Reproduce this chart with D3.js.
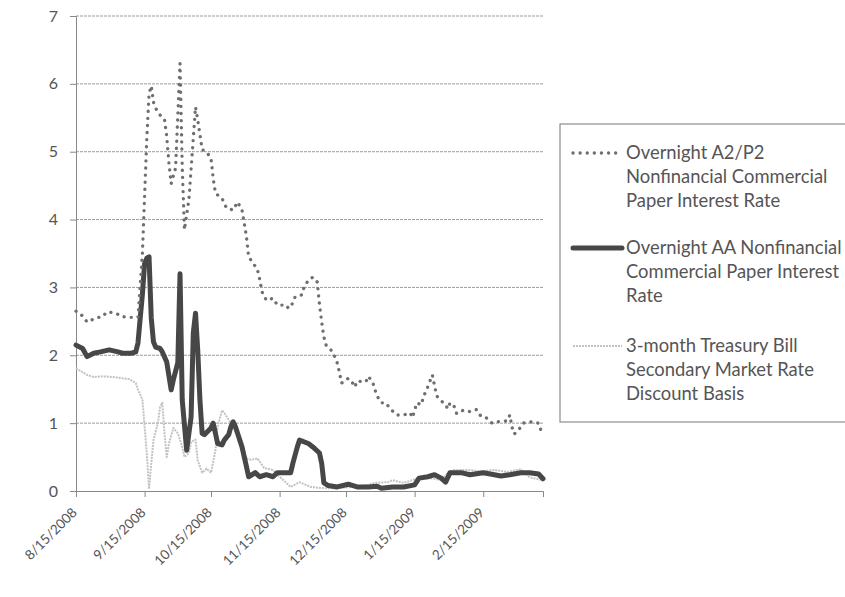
<!DOCTYPE html>
<html>
<head>
<meta charset="utf-8">
<script src="https://cdn.jsdelivr.net/npm/d3@7"></script>
<style>
  body { margin: 0; background: #fff; }
  svg text { font-family: "Lato", "Open Sans", "Liberation Sans", sans-serif; fill: #555; }
</style>
</head>
<body>
<svg id="chart" width="845" height="597"></svg>
<script>
// overnight A2/P2 nonfinancial CP rate
var a2p2 = [
  ["2008-08-15",2.65],["2008-08-18",2.58],["2008-08-20",2.49],["2008-08-24",2.55],["2008-08-27",2.57],
  ["2008-08-29",2.64],["2008-09-02",2.62],["2008-09-05",2.57],["2008-09-08",2.56],["2008-09-12",2.56],
  ["2008-09-14",3.5],["2008-09-15",4.35],["2008-09-16",5.2],["2008-09-17",5.85],["2008-09-18",5.97],
  ["2008-09-19",5.73],["2008-09-20",5.64],["2008-09-22",5.54],["2008-09-24",5.47],["2008-09-25",5.22],
  ["2008-09-26",4.83],["2008-09-27",4.53],["2008-09-29",4.76],["2008-10-01",6.3],["2008-10-02",4.78],
  ["2008-10-03",3.85],["2008-10-05",4.29],["2008-10-08",5.66],["2008-10-09",5.47],["2008-10-10",5.25],
  ["2008-10-11",5.03],["2008-10-13",5.0],["2008-10-15",4.9],["2008-10-16",4.6],["2008-10-17",4.39],
  ["2008-10-20",4.31],["2008-10-22",4.17],["2008-10-25",4.14],["2008-10-27",4.26],["2008-10-29",4.14],
  ["2008-10-30",3.95],["2008-10-31",3.75],["2008-11-01",3.45],["2008-11-03",3.36],["2008-11-05",3.26],
  ["2008-11-06",3.12],["2008-11-07",2.94],["2008-11-09",2.81],["2008-11-12",2.84],["2008-11-14",2.74],
  ["2008-11-18",2.74],["2008-11-19",2.69],["2008-11-21",2.77],["2008-11-22",2.86],["2008-11-25",2.89],
  ["2008-11-26",3.0],["2008-11-28",3.11],["2008-11-30",3.15],["2008-12-02",3.08],["2008-12-03",2.75],
  ["2008-12-04",2.49],["2008-12-05",2.27],["2008-12-06",2.15],["2008-12-09",2.05],["2008-12-11",1.89],
  ["2008-12-12",1.75],["2008-12-13",1.59],["2008-12-16",1.66],["2008-12-18",1.59],["2008-12-19",1.53],
  ["2008-12-20",1.62],["2008-12-24",1.61],["2008-12-25",1.69],["2008-12-27",1.61],["2008-12-28",1.5],
  ["2008-12-29",1.4],["2008-12-31",1.3],["2009-01-02",1.3],["2009-01-04",1.21],["2009-01-07",1.12],
  ["2009-01-10",1.12],["2009-01-13",1.15],["2009-01-14",1.08],["2009-01-15",1.19],["2009-01-16",1.3],
  ["2009-01-18",1.27],["2009-01-19",1.39],["2009-01-21",1.54],["2009-01-23",1.71],["2009-01-24",1.55],
  ["2009-01-25",1.4],["2009-01-27",1.33],["2009-01-29",1.27],["2009-01-30",1.21],["2009-01-31",1.3],
  ["2009-02-02",1.24],["2009-02-03",1.14],["2009-02-06",1.19],["2009-02-09",1.17],["2009-02-12",1.2],
  ["2009-02-14",1.1],["2009-02-17",1.07],["2009-02-19",1.0],["2009-02-21",1.02],["2009-02-25",1.03],
  ["2009-02-26",1.04],["2009-02-27",1.12],["2009-02-28",0.94],["2009-03-01",0.84],["2009-03-03",0.9],
  ["2009-03-05",1.0],["2009-03-08",1.02],["2009-03-12",1.0],["2009-03-13",0.9]
];

// overnight AA nonfinancial CP rate
var aa = [
  ["2008-08-15",2.15],["2008-08-18",2.1],["2008-08-20",1.98],["2008-08-23",2.03],["2008-08-26",2.05],
  ["2008-08-30",2.08],["2008-09-03",2.05],["2008-09-05",2.03],["2008-09-09",2.03],["2008-09-11",2.05],
  ["2008-09-12",2.18],["2008-09-14",2.9],["2008-09-15",3.35],["2008-09-16",3.43],["2008-09-17",3.45],
  ["2008-09-18",2.55],["2008-09-19",2.2],["2008-09-20",2.12],["2008-09-22",2.1],["2008-09-23",2.05],
  ["2008-09-25",1.9],["2008-09-27",1.49],["2008-09-28",1.64],["2008-09-30",1.89],["2008-10-01",3.2],
  ["2008-10-02",1.34],["2008-10-04",0.6],["2008-10-06",1.09],["2008-10-07",2.33],["2008-10-08",2.62],
  ["2008-10-09",2.08],["2008-10-10",1.34],["2008-10-11",0.85],["2008-10-12",0.83],["2008-10-15",0.93],
  ["2008-10-16",1.0],["2008-10-17",0.85],["2008-10-18",0.7],["2008-10-20",0.68],["2008-10-21",0.75],
  ["2008-10-23",0.83],["2008-10-24",0.95],["2008-10-25",1.02],["2008-10-26",0.95],["2008-10-29",0.65],
  ["2008-10-31",0.36],["2008-11-01",0.21],["2008-11-04",0.27],["2008-11-06",0.21],["2008-11-09",0.24],
  ["2008-11-12",0.21],["2008-11-14",0.27],["2008-11-18",0.27],["2008-11-20",0.27],["2008-11-21",0.41],
  ["2008-11-23",0.65],["2008-11-24",0.75],["2008-11-28",0.7],["2008-11-30",0.65],["2008-12-03",0.56],
  ["2008-12-04",0.41],["2008-12-05",0.12],["2008-12-07",0.08],["2008-12-11",0.06],["2008-12-16",0.1],
  ["2008-12-20",0.06],["2008-12-25",0.06],["2008-12-29",0.07],["2008-12-31",0.04],["2009-01-05",0.06],
  ["2009-01-10",0.06],["2009-01-15",0.09],["2009-01-17",0.19],["2009-01-21",0.21],["2009-01-24",0.24],
  ["2009-01-27",0.19],["2009-01-29",0.13],["2009-01-31",0.27],["2009-02-05",0.27],["2009-02-09",0.24],
  ["2009-02-15",0.27],["2009-02-20",0.24],["2009-02-23",0.22],["2009-02-27",0.24],["2009-03-04",0.27],
  ["2009-03-08",0.27],["2009-03-12",0.25],["2009-03-14",0.18]
];

// 3-month treasury bill, secondary market, discount basis
var tbill = [
  ["2008-08-15",1.81],["2008-08-18",1.75],["2008-08-20",1.71],["2008-08-23",1.68],["2008-08-27",1.69],
  ["2008-09-01",1.68],["2008-09-05",1.66],["2008-09-08",1.65],["2008-09-11",1.59],["2008-09-12",1.49],
  ["2008-09-14",1.35],["2008-09-15",0.95],["2008-09-16",0.55],["2008-09-17",0.03],["2008-09-18",0.4],
  ["2008-09-19",0.75],["2008-09-21",1.0],["2008-09-22",1.24],["2008-09-23",1.3],["2008-09-24",0.85],
  ["2008-09-25",0.5],["2008-09-26",0.7],["2008-09-28",0.93],["2008-09-30",0.85],["2008-10-01",0.75],
  ["2008-10-02",0.65],["2008-10-03",0.5],["2008-10-05",0.56],["2008-10-06",0.72],["2008-10-08",0.76],
  ["2008-10-09",0.45],["2008-10-11",0.27],["2008-10-13",0.33],["2008-10-15",0.27],["2008-10-17",0.6],
  ["2008-10-18",0.95],["2008-10-20",1.19],["2008-10-21",1.15],["2008-10-23",1.05],["2008-10-25",0.95],
  ["2008-10-27",0.82],["2008-10-29",0.6],["2008-10-31",0.48],["2008-11-02",0.46],["2008-11-05",0.48],
  ["2008-11-08",0.34],["2008-11-12",0.31],["2008-11-14",0.24],["2008-11-20",0.06],["2008-11-24",0.13],
  ["2008-11-29",0.06],["2008-12-05",0.04],["2008-12-11",0.04],["2008-12-18",0.06],["2008-12-25",0.09],
  ["2008-12-28",0.12],["2009-01-03",0.13],["2009-01-05",0.16],["2009-01-10",0.12],["2009-01-14",0.16],
  ["2009-01-18",0.21],["2009-01-22",0.19],["2009-01-27",0.16],["2009-01-30",0.27],["2009-02-02",0.31],
  ["2009-02-08",0.31],["2009-02-14",0.29],["2009-02-20",0.31],["2009-02-26",0.28],["2009-03-04",0.32],
  ["2009-03-08",0.2],["2009-03-14",0.16]
];

var xTickDates = ["2008-08-15","2008-09-15","2008-10-15","2008-11-15","2008-12-15","2009-01-15","2009-02-15"];
var yTicks = [0,1,2,3,4,5,6,7];
var legendLabels = [
  ["Overnight A2/P2", "Nonfinancial Commercial", "Paper Interest Rate"],
  ["Overnight AA Nonfinancial", "Commercial Paper Interest", "Rate"],
  ["3-month Treasury Bill", "Secondary Market Rate", "Discount Basis"]
];

(function drawChart(){
  var parseDate = d3.timeParse("%Y-%m-%d");
  var fmt = d3.timeFormat("%-m/%-d/%Y");

  var svg = d3.select("#chart");

  //plot area edges
  var plotLeft = 76, plotRight = 543, plotTop = 16, plotBottom = 491;

  var x = d3.scaleTime()
    .domain([parseDate("2008-08-15"), parseDate("2009-03-14")])
    .range([plotLeft, plotRight]);
  var y = d3.scaleLinear().domain([0, 7]).range([plotBottom, plotTop]);

  // gridlines
  svg.append("g").selectAll("line").data(yTicks.slice(1)).enter().append("line")
    .attr("x1", plotLeft).attr("x2", plotRight)
    .attr("y1", function(d){ return y(d); }).attr("y2", function(d){ return y(d); })
    .attr("stroke", "#9d9d9d").attr("stroke-width", 1).attr("stroke-dasharray", "3 1");

  // y axis
  var yAxis = svg.append("g").attr("transform", "translate(" + plotLeft + ",0)")
    .call(d3.axisLeft(y).tickValues(yTicks).tickSize(6).tickPadding(12).tickFormat(d3.format("d")));
  yAxis.select(".domain").attr("stroke", "#888");
  yAxis.selectAll(".tick line").attr("stroke", "#888");
  yAxis.selectAll("text").style("font-size", "16px").attr("fill", "#555");

  // x axis
  var xAxis = svg.append("g").attr("transform", "translate(0," + plotBottom + ")")
    .call(d3.axisBottom(x).tickValues(xTickDates.map(parseDate)).tickSize(6).tickFormat(fmt));
  xAxis.select(".domain").attr("stroke", "#888");
  xAxis.selectAll(".tick line").attr("stroke", "#888");
  xAxis.selectAll("text")
    .style("font-size", "13.5px").attr("fill", "#555")
    .attr("text-anchor", "end")
    .attr("transform", "translate(-2,19) rotate(-45)")
    .attr("dy", "0.35em").attr("y", 0).attr("x", 0);

  var line = d3.line()
    .x(function(d){ return x(parseDate(d[0])); })
    .y(function(d){ return y(d[1]); });

  var styles = [
    {data: tbill, stroke: "#c2c2c2", width: 2, dash: "2 1", cap: "butt"},
    {data: aa, stroke: "#474747", width: 5, dash: null, cap: "round"},
    {data: a2p2, stroke: "#6f6f6f", width: 3.3, dash: "0.1 7", cap: "round"}
  ];

  styles.forEach(function(s){
    svg.append("path")
      .attr("d", line(s.data))
      .attr("fill", "none")
      .attr("stroke", s.stroke)
      .attr("stroke-width", s.width)
      .attr("stroke-linecap", s.cap)
      .attr("stroke-linejoin", "round")
      .attr("stroke-dasharray", s.dash);
  });

  // legend
  var legend = svg.append("g");
  legend.append("rect")
    .attr("x", 560).attr("y", 124).attr("width", 300).attr("height", 298)
    .attr("fill", "#fff").attr("stroke", "#777").attr("stroke-width", 1);

  var legendStyles = [styles[2], styles[1], styles[0]];
  var entryY = [153, 248, 346];
  legendLabels.forEach(function(lines, i){
    var s = legendStyles[i];
    legend.append("line")
      .attr("x1", 573).attr("x2", 622)
      .attr("y1", entryY[i]).attr("y2", entryY[i])
      .attr("stroke", s.stroke).attr("stroke-width", s.width)
      .attr("stroke-linecap", s.cap).attr("stroke-dasharray", s.dash);
    lines.forEach(function(t, j){
      legend.append("text")
        .attr("x", 626).attr("y", entryY[i] + j * 23.7)
        .attr("dy", "0.35em")
        .style("font-size", "18.4px")
        .text(t);
    });
  });
})();
</script>
</body>
</html>
